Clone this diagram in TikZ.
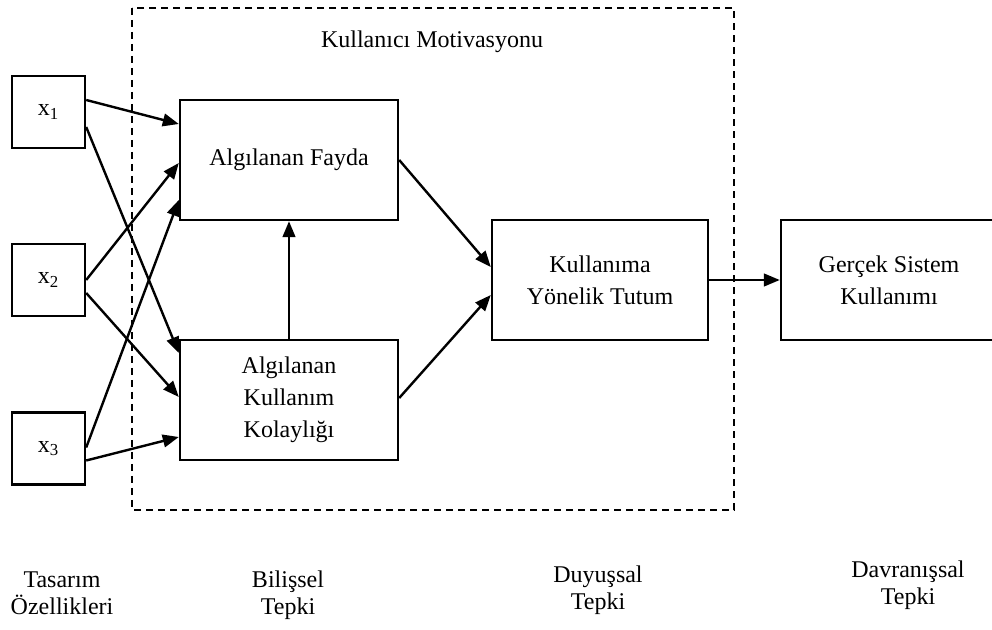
\documentclass[tikz,border=0pt]{standalone}
\usepackage{fontspec}
\setmainfont{Liberation Serif}
\usetikzlibrary{arrows.meta,calc}
\begin{document}
\begin{tikzpicture}[x=0.75pt,y=-0.75pt,
  box/.style={draw,line width=1.8pt,rectangle,inner sep=0pt,align=center,
    font=\fontsize{18}{24}\selectfont},
  xbox/.style={box,minimum width=54.75pt,minimum height=54pt},
  bigbox/.style={box,minimum width=163.5pt,minimum height=90pt},
  arr/.style={line width=1.8pt,-{Triangle[length=12pt,width=9.5pt]}},
  lbl/.style={align=center,inner sep=0pt,font=\fontsize{18}{20.25}\selectfont},
  frame/.style={draw,line width=1.8pt,dash pattern=on 5.5pt off 3.5pt}]
\useasboundingbox (0,0) rectangle (992,630);
\draw[frame] (132,8) rectangle (734,510);
\node[lbl] (mot) at (432,42) {Kullanıcı Motivasyonu};
\node[xbox] (x1) at (48.5,112) {x\textsubscript{1}};
\node[xbox] (x2) at (48.5,280) {x\textsubscript{2}};
\node[xbox] (x3) at (48.5,448.5) {x\textsubscript{3}};
\node[bigbox] (af) at (289,160) {Algılanan Fayda};
\node[bigbox] (akk) at (289,400) {Algılanan\\Kullanım\\Kolaylığı};
\node[box,minimum width=162pt,minimum height=90pt] (kyt) at (600,280) {Kullanıma\\Yönelik Tutum};
\node[box,minimum width=162pt,minimum height=90pt] (gsk) at (889,280) {Gerçek Sistem\\Kullanımı};
\draw[arr] ($(x1.east)+(0,-12)$) -- ($(af.west)+(0,-36)$);
\draw[arr] ($(x1.east)+(0,15)$) -- ($(akk.west)+(0,-47)$);
\draw[arr] ($(x2.east)+(0,0)$) -- ($(af.west)+(0,3)$);
\draw[arr] ($(x2.east)+(0,13)$) -- ($(akk.west)+(0,-3)$);
\draw[arr] ($(x3.east)+(0,-1)$) -- ($(af.west)+(0,40)$);
\draw[arr] ($(x3.east)+(0,12)$) -- ($(akk.west)+(0,37)$);
\draw[arr] (akk.north) -- (af.south);
\draw[arr] (af.east) -- ($(kyt.west)+(0,-13)$);
\draw[arr] ($(akk.east)+(0,-2)$) -- ($(kyt.west)+(0,15)$);
\draw[arr] (kyt.east) -- (gsk.west);
\node[lbl] (l1) at (62,593) {Tasarım\\Özellikleri};
\node[lbl] (l2) at (288,595) {Bilişsel\\Tepki};
\node[lbl] (l3) at (598,590) {Duyuşsal\\Tepki};
\node[lbl] (l4) at (908,585) {Davranışsal\\Tepki};
\end{tikzpicture}
\end{document}
